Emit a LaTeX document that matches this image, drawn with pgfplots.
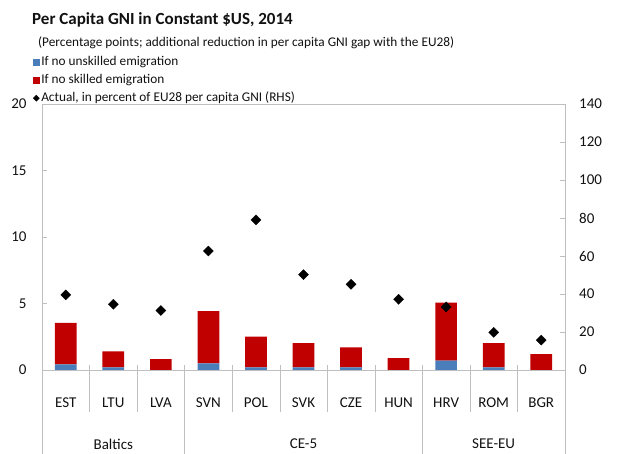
\documentclass[border=0pt]{standalone}
\usepackage{pgfplots}
\pgfplotsset{compat=1.18}
\usepackage{pgfplotstable}
\usepackage{fontspec}
\setmainfont{Carlito}
\definecolor{barblue}{HTML}{4A7EBB}
\definecolor{barred}{HTML}{C00000}
\definecolor{axgray}{HTML}{BFBFBF}
\definecolor{txt}{HTML}{111111}

\pgfplotstableread{
x blue red act
0 0.43 3.12 39.5
1 0.20 1.20 34.6
2 0.00 0.82 31.3
3 0.50 3.92 62.6
4 0.20 2.30 79.0
5 0.20 1.82 50.2
6 0.20 1.50 45.1
7 0.00 0.90 37.2
8 0.70 4.37 33.2
9 0.20 1.82 19.8
10 0.00 1.20 15.7
}\data

\begin{document}
\begin{tikzpicture}[x=1pt,y=1pt]
\path[use as bounding box] (0,0) rectangle (633,454);
\node[anchor=base west, inner sep=0, font=\fontsize{17}{20}\selectfont\bfseries, text=txt] at (32,429) {Per Capita GNI in Constant \$US, 2014};
\node[anchor=base west, inner sep=0, font=\fontsize{13.3}{15}\selectfont, text=txt] at (38,407) {(Percentage points; additional reduction in per capita GNI gap with the EU28)};
\begin{axis}[
  at={(42pt,84pt)}, anchor=south west, scale only axis,
  width=523pt, height=266pt,
  xmin=-0.5, xmax=10.5, ymin=0, ymax=20,
  ybar stacked, bar width=21.7pt,
  xtick={0,...,10},
  xticklabels={EST,LTU,LVA,SVN,POL,SVK,CZE,HUN,HRV,ROM,BGR},
  major x tick style={draw=none},
  xticklabel style={anchor=center, yshift=-33pt},
  ytick={0,5,10,15,20}, ytick pos=left,
  yticklabel style={xshift=-12pt},
  /pgf/number format/assume math mode=true,
  tick align=inside, major tick length=5pt,
  axis line style={axgray}, every tick/.style={axgray},
  tick label style={font=\fontsize{15}{17}\selectfont, text=txt},
  clip=false,
  legend style={at={(rel axis cs:-0.018,1.186)}, anchor=north west, draw=none, fill=none, inner sep=0pt, row sep=3pt,
    font=\fontsize{13.3}{15}\selectfont, text=txt,
    nodes={inner sep=1.5pt, text height=9pt, text depth=3pt},
    /tikz/every even column/.append style={column sep=0pt}},
  legend cell align=left,
]
\addplot[fill=barblue, draw=none, legend image code/.code={\fill[barblue] (0pt,-3.5pt) rectangle (7pt,3.5pt);}] table[x=x,y=blue]{\data};
\addlegendentry{If no unskilled emigration}
\addplot[fill=barred, draw=none, legend image code/.code={\fill[barred] (0pt,-3.5pt) rectangle (7pt,3.5pt);}] table[x=x,y=red]{\data};
\addlegendentry{If no skilled emigration}
\addlegendimage{legend image code/.code={\fill[black] (3.5pt,3pt) -- (6.5pt,0pt) -- (3.5pt,-3pt) -- (0.5pt,0pt) -- cycle;}}
\addlegendentry{Actual, in percent of EU28 per capita GNI (RHS)}
% separators
\draw[axgray] ([yshift=5pt]axis cs:0.5,0) -- ([yshift=-42pt]axis cs:0.5,0);
\draw[axgray] ([yshift=5pt]axis cs:1.5,0) -- ([yshift=-42pt]axis cs:1.5,0);
\draw[axgray] ([yshift=5pt]axis cs:3.5,0) -- ([yshift=-42pt]axis cs:3.5,0);
\draw[axgray] ([yshift=5pt]axis cs:4.5,0) -- ([yshift=-42pt]axis cs:4.5,0);
\draw[axgray] ([yshift=5pt]axis cs:5.5,0) -- ([yshift=-42pt]axis cs:5.5,0);
\draw[axgray] ([yshift=5pt]axis cs:6.5,0) -- ([yshift=-42pt]axis cs:6.5,0);
\draw[axgray] ([yshift=5pt]axis cs:8.5,0) -- ([yshift=-42pt]axis cs:8.5,0);
\draw[axgray] ([yshift=5pt]axis cs:9.5,0) -- ([yshift=-42pt]axis cs:9.5,0);
\draw[axgray] ([yshift=5pt]axis cs:2.5,0) -- ([yshift=-84pt]axis cs:2.5,0);
\draw[axgray] ([yshift=5pt]axis cs:7.5,0) -- ([yshift=-84pt]axis cs:7.5,0);
\draw[axgray] (axis cs:-0.5,0) -- ([yshift=-84pt]axis cs:-0.5,0);
\draw[axgray] (axis cs:10.5,0) -- ([yshift=-84pt]axis cs:10.5,0);
\node[font=\fontsize{15}{17}\selectfont, text=txt] at ([yshift=-74pt]axis cs:1,0) {Baltics};
\node[font=\fontsize{15}{17}\selectfont, text=txt] at ([yshift=-74pt]axis cs:5,0) {CE-5};
\node[font=\fontsize{15}{17}\selectfont, text=txt] at ([yshift=-74pt]axis cs:9,0) {SEE-EU};
\end{axis}
\begin{axis}[
  at={(42pt,84pt)}, anchor=south west, scale only axis,
  width=523pt, height=266pt,
  xmin=-0.5, xmax=10.5, ymin=0, ymax=140,
  axis x line=none, axis y line*=right,
  ytick={0,20,...,140},
  yticklabel style={xshift=10.7pt},
  /pgf/number format/assume math mode=true,
  tick align=inside, major tick length=5pt,
  axis line style={axgray}, every tick/.style={axgray},
  tick label style={font=\fontsize{15}{17}\selectfont, text=txt},
  clip=false,
]
\addplot[only marks, mark=diamond*, mark size=5pt, mark options={xscale=1.33, fill=black, draw=black}] table[x=x,y=act]{\data};
\end{axis}
\end{tikzpicture}
\end{document}
